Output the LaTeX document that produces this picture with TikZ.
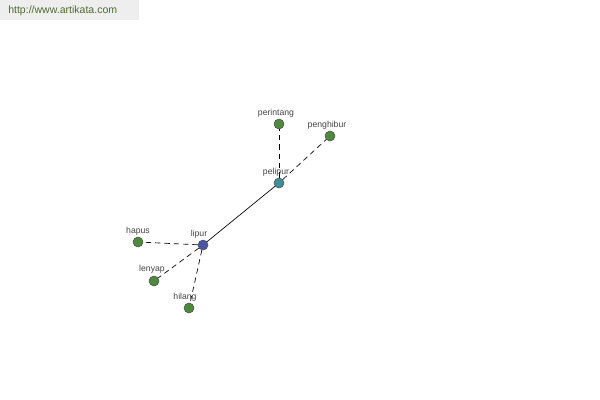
\documentclass[tikz,border=0pt]{standalone}
\usepackage{fontspec}
\setmainfont{Liberation Sans}
\definecolor{leaf}{HTML}{4E8A3E}
\definecolor{hub}{HTML}{4B55A8}
\definecolor{mid}{HTML}{3F8E9A}
\definecolor{lbl}{HTML}{444444}
\definecolor{url}{HTML}{4F6B2E}
\definecolor{urlbg}{HTML}{EEEEEE}
\begin{document}
\begin{tikzpicture}[x=0.75pt,y=-0.75pt,
  dot/.style={circle,draw=black!70,line width=0.4pt,minimum size=7.5pt,inner sep=0pt},
  leafdot/.style={dot,fill=leaf},
  lab/.style={font=\fontsize{6.5}{7}\selectfont,text=lbl,inner sep=0pt},
  dashline/.style={dashed,dash pattern=on 4pt off 3pt,line width=0.5pt},
  solidl/.style={line width=0.5pt}]
\useasboundingbox (0,0) rectangle (600,400);
\fill[urlbg] (0,0) rectangle (139,20);
\node[font=\fontsize{7.9}{9}\selectfont,text=url,anchor=west,inner sep=0pt] (url) at (8,11) {http://www.artikata.com};
\node[dot,fill=hub] (lipur) at (203,245) {};
\node[dot,fill=mid] (pelipur) at (279,183) {};
\node[leafdot] (perintang) at (279,124) {};
\node[leafdot] (penghibur) at (330,136) {};
\node[leafdot] (hapus) at (138,242) {};
\node[leafdot] (lenyap) at (154,281) {};
\node[leafdot] (hilang) at (189,308) {};
\draw[solidl] (lipur) -- (pelipur);
\draw[dashline] (pelipur) -- (perintang);
\draw[dashline] (pelipur) -- (penghibur);
\draw[dashline] (lipur) -- (hapus);
\draw[dashline] (lipur) -- (lenyap);
\draw[dashline] (lipur) -- (hilang);
\node[lab] (tlipur) at (199,234) {lipur};
\node[lab] (tpelipur) at (276,172) {pelipur};
\node[lab] (tperintang) at (276,113) {perintang};
\node[lab] (tpenghibur) at (327,125) {penghibur};
\node[lab] (thapus) at (138,231) {hapus};
\node[lab] (tlenyap) at (152,269) {lenyap};
\node[lab] (thilang) at (185,297) {hilang};
\end{tikzpicture}
\end{document}
